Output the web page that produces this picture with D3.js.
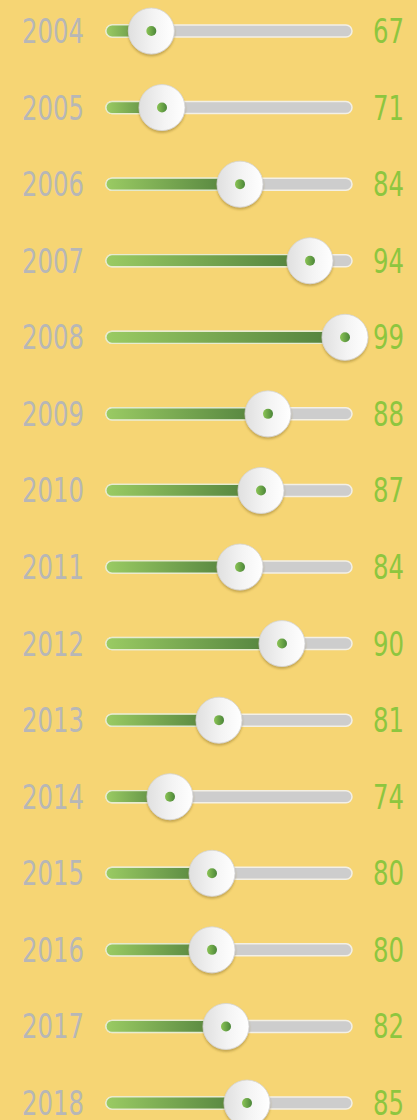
<!DOCTYPE html>
<html lang="en">
<head>
  <meta charset="UTF-8">
  <script src="https://d3js.org/d3.v7.min.js"></script>
  <title>Sliders</title>
  <style>
    html, body { margin: 0; padding: 0; background: #f6d574; }
    svg { display: block; }
  </style>
</head>
<body>
  <script>
    const years = ["2004", "2005", "2006", "2007", "2008", "2009", "2010", "2011", "2012", "2013", "2014", "2015", "2016", "2017", "2018"]
    const values = [67, 71, 84, 94, 99, 88, 87, 84, 90, 81, 74, 80, 80, 82, 85]
    const dataset = years.map((y, i) => ({ year: y, value: values[i] }))

    const dimensions = {
      width: 417,
      height: 1120,
      trackStart: 106,
      trackEnd: 352,
      trackHeight: 12,
      knobR: 23
    }

    const svg = d3.select("body")
        .append("svg")
        .attr("width", dimensions.width)
        .attr("height", dimensions.height)

    const defs = svg.append("defs")

    const fillGrad = defs.append("linearGradient").attr("id", "fillGrad")
    fillGrad.append("stop").attr("offset", "0%").attr("stop-color", "#9acb63")
    fillGrad.append("stop").attr("offset", "100%").attr("stop-color", "#4f7e3c")

    const knobGrad = defs.append("linearGradient").attr("id", "knobGrad")
    knobGrad.append("stop").attr("offset", "0%").attr("stop-color", "#e0e0e0")
    knobGrad.append("stop").attr("offset", "55%").attr("stop-color", "#f4f4f4")
    knobGrad.append("stop").attr("offset", "100%").attr("stop-color", "#ffffff")

    const dotGrad = defs.append("linearGradient").attr("id", "dotGrad")
    dotGrad.append("stop").attr("offset", "0%").attr("stop-color", "#8bc455")
    dotGrad.append("stop").attr("offset", "100%").attr("stop-color", "#4b8639")

    const shadow = defs.append("filter").attr("id", "shadow")
        .attr("x", "-30%").attr("y", "-30%").attr("width", "160%").attr("height", "170%")
    shadow.append("feDropShadow")
        .attr("dx", 0).attr("dy", 2).attr("stdDeviation", 1.2)
        .attr("flood-color", "#8a6d20").attr("flood-opacity", 0.45)

    /* Scales */
    const yScale = d3.scalePoint()
        .domain(years)
        .range([31, 1103])

    // the knobs move slower below 74 in the original
    const xScale = d3.scaleLinear()
        .domain([50, 74, 100])
        .range([dimensions.trackStart, dimensions.trackStart + 64, dimensions.trackEnd])

    const rows = svg.selectAll("g.row")
        .data(dataset)
        .join("g")
        .attr("class", "row")
        .attr("transform", d => `translate(0, ${yScale(d.year)})`)

    // track
    rows.append("rect")
        .attr("x", dimensions.trackStart)
        .attr("y", -dimensions.trackHeight / 2)
        .attr("width", dimensions.trackEnd - dimensions.trackStart)
        .attr("height", dimensions.trackHeight)
        .attr("rx", dimensions.trackHeight / 2)
        .attr("fill", "#cdcdcd")
        .attr("stroke", "#f3f0e6")
        .attr("stroke-width", 1.5)

    // filled part
    rows.append("rect")
        .attr("x", dimensions.trackStart)
        .attr("y", -dimensions.trackHeight / 2)
        .attr("width", d => xScale(d.value) - dimensions.trackStart)
        .attr("height", dimensions.trackHeight)
        .attr("rx", dimensions.trackHeight / 2)
        .attr("fill", "url(#fillGrad)")
        .attr("stroke", "#e6ecd0")
        .attr("stroke-width", 1.2)

    // knob
    rows.append("circle")
        .attr("cx", d => xScale(d.value))
        .attr("cy", 0)
        .attr("r", dimensions.knobR)
        .attr("fill", "url(#knobGrad)")
        .attr("stroke", "#d6d6d6")
        .attr("stroke-width", 0.8)
        .attr("filter", "url(#shadow)")

    rows.append("circle")
        .attr("cx", d => xScale(d.value))
        .attr("cy", 0)
        .attr("r", 5)
        .attr("fill", "url(#dotGrad)")

    // labels (narrow digits, about 15.5px each)
    const labelFont = "'DejaVu Sans', sans-serif"

    rows.append("text")
        .attr("x", 84)
        .attr("y", 12)
        .attr("text-anchor", "end")
        .attr("fill", "#b7b7b7")
        .attr("textLength", d => d.year.length * 15.5)
        .attr("lengthAdjust", "spacingAndGlyphs")
        .style("font-family", labelFont)
        .style("font-size", "34px")
        .text(d => d.year)

    rows.append("text")
        .attr("x", 373)
        .attr("y", 12)
        .attr("fill", "#8dc63f")
        .attr("textLength", d => String(d.value).length * 15.5)
        .attr("lengthAdjust", "spacingAndGlyphs")
        .style("font-family", labelFont)
        .style("font-size", "34px")
        .text(d => d.value)
  </script>
</body>
</html>
